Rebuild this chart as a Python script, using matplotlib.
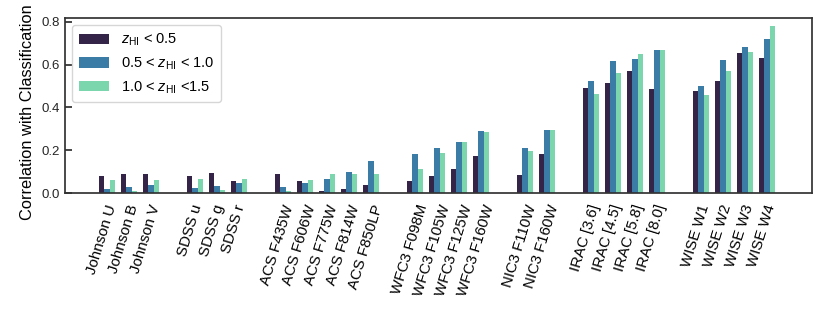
import numpy as np
import matplotlib
matplotlib.use("Agg")
import matplotlib.pyplot as plt

# band names, grouped by instrument
groups = [
    ["Johnson U", "Johnson B", "Johnson V"],
    ["SDSS u", "SDSS g", "SDSS r"],
    ["ACS F435W", "ACS F606W", "ACS F775W", "ACS F814W", "ACS F850LP"],
    ["WFC3 F098M", "WFC3 F105W", "WFC3 F125W", "WFC3 F160W"],
    ["NIC3 F110W", "NIC3 F160W"],
    ["IRAC [3.6]", "IRAC [4.5]", "IRAC [5.8]", "IRAC [8.0]"],
    ["WISE W1", "WISE W2", "WISE W3", "WISE W4"],
]

# correlation per redshift bin (same order as the bands above)
corr_low = [0.080, 0.088, 0.089,
            0.080, 0.092, 0.055,
            0.089, 0.055, 0.009, 0.019, 0.039,
            0.058, 0.082, 0.111, 0.172,
            0.086, 0.181,
            0.491, 0.516, 0.571, 0.485,
            0.478, 0.524, 0.655, 0.632]
corr_mid = [0.017, 0.028, 0.039,
            0.025, 0.033, 0.045,
            0.027, 0.047, 0.067, 0.098, 0.152,
            0.183, 0.213, 0.238, 0.288,
            0.213, 0.295,
            0.525, 0.617, 0.628, 0.669,
            0.499, 0.621, 0.682, 0.721]
corr_high = [0.060, 0.008, 0.063,
             0.067, 0.016, 0.067,
             0.011, 0.063, 0.091, 0.089, 0.089,
             0.111, 0.186, 0.238, 0.285,
             0.199, 0.293,
             0.464, 0.561, 0.650, 0.669,
             0.457, 0.572, 0.658, 0.780]

series_labels = [r"$z_{\rm HI}$ < 0.5",
                 r"0.5 < $z_{\rm HI}$ < 1.0",
                 r"1.0 < $z_{\rm HI}$ <1.5"]
colors = ["#342548", "#3a7ca5", "#7bd6ae"]

plt.rcParams["font.family"] = ["Liberation Sans", "DejaVu Sans"]
plt.rcParams["mathtext.fontset"] = "custom"
plt.rcParams["mathtext.rm"] = "Liberation Sans"
plt.rcParams["mathtext.it"] = "Liberation Sans:italic"

# x positions: one empty slot between instrument groups
labels = []
xpos = []
pos = 0
for g in groups:
    for name in g:
        labels.append(name)
        xpos.append(pos)
        pos += 1
    pos += 1
xpos = np.array(xpos)

fig = plt.figure(figsize=(8.3, 3.12), dpi=100)
ax = fig.add_axes([0.0783, 0.381, 0.8995, 0.561])

w = 0.25
for i, (vals, lab, c) in enumerate(zip([corr_low, corr_mid, corr_high], series_labels, colors)):
    ax.bar(xpos + (i - 1) * w, vals, width=w, color=c, label=lab)

ax.set_xlim(-1.92, 32.03)
ax.set_ylim(0, 0.8175)
ax.set_yticks([0.0, 0.2, 0.4, 0.6, 0.8])
# tick labels sit under the first bar of each group
ax.set_xticks(xpos - w)
ax.set_xticklabels(labels, rotation=73, ha="center", fontsize=10.8)
ax.tick_params(axis="y", direction="in", length=5, width=1.2, labelsize=9.5, colors="0.15")
ax.tick_params(axis="x", direction="in", length=0, pad=7)
for s in ax.spines.values():
    s.set_linewidth(1.25)
    s.set_color("0.2")
ax.set_ylabel("Correlation with Classification", fontsize=11.8)
ax.yaxis.set_label_coords(-0.04, 0.46)

ax.legend(loc="upper left", fontsize=10.5, frameon=True, edgecolor="0.8",
          borderpad=0.45, handlelength=2.1)

fig.savefig("out.png", dpi=100)
